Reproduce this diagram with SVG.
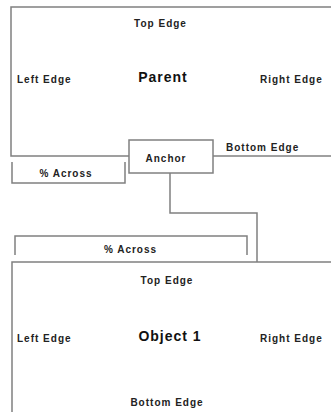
<svg xmlns="http://www.w3.org/2000/svg" width="331" height="412" viewBox="0 0 331 412">
<style>
.ln{fill:none;stroke:#808080;stroke-width:1.5}
.t{font-family:"Liberation Sans",Arial,sans-serif;font-weight:bold;font-size:10px;letter-spacing:1px;fill:#222}
.big{font-family:"Liberation Sans",Arial,sans-serif;font-weight:bold;font-size:14px;letter-spacing:1px;fill:#111}
</style>
<rect width="331" height="412" fill="#fff"/>
<g id="parent">
<polyline class="ln" points="331,7 11,7 11,156 129,156"/>
<text class="t" x="160.5" y="27" text-anchor="middle">Top Edge</text>
<text class="big" x="163" y="82" text-anchor="middle">Parent</text>
<text class="t" x="17" y="83">Left Edge</text>
<text class="t" x="260" y="83">Right Edge</text>
<text class="t" x="226" y="150.5">Bottom Edge</text>
</g>
<g id="anchor">
<rect class="ln" x="129" y="140" width="84" height="33"/>
<text class="t" x="166" y="161.5" text-anchor="middle">Anchor</text>
</g>
<g id="across1">
<polyline class="ln" points="12,162 12,183 125,183 125,162"/>
<text class="t" x="66" y="176.5" text-anchor="middle">% Across</text>
</g>
<g id="across2">
<polyline class="ln" points="15,255 15,236 247,236 247,255"/>
<text class="t" x="130.5" y="253" text-anchor="middle">% Across</text>
</g>
<g id="object1">
<polyline class="ln" points="331,262 12,262 12,412"/>
<text class="t" x="167" y="283.5" text-anchor="middle">Top Edge</text>
<text class="big" x="170" y="341" text-anchor="middle">Object 1</text>
<text class="t" x="17" y="342">Left Edge</text>
<text class="t" x="260" y="342">Right Edge</text>
<text class="t" x="167" y="406" text-anchor="middle">Bottom Edge</text>
</g>
<g id="connectors">
<line class="ln" x1="213" y1="156" x2="331" y2="156"/>
<polyline class="ln" points="170,173 170,213 257,213 257,262"/>
</g>
</svg>
